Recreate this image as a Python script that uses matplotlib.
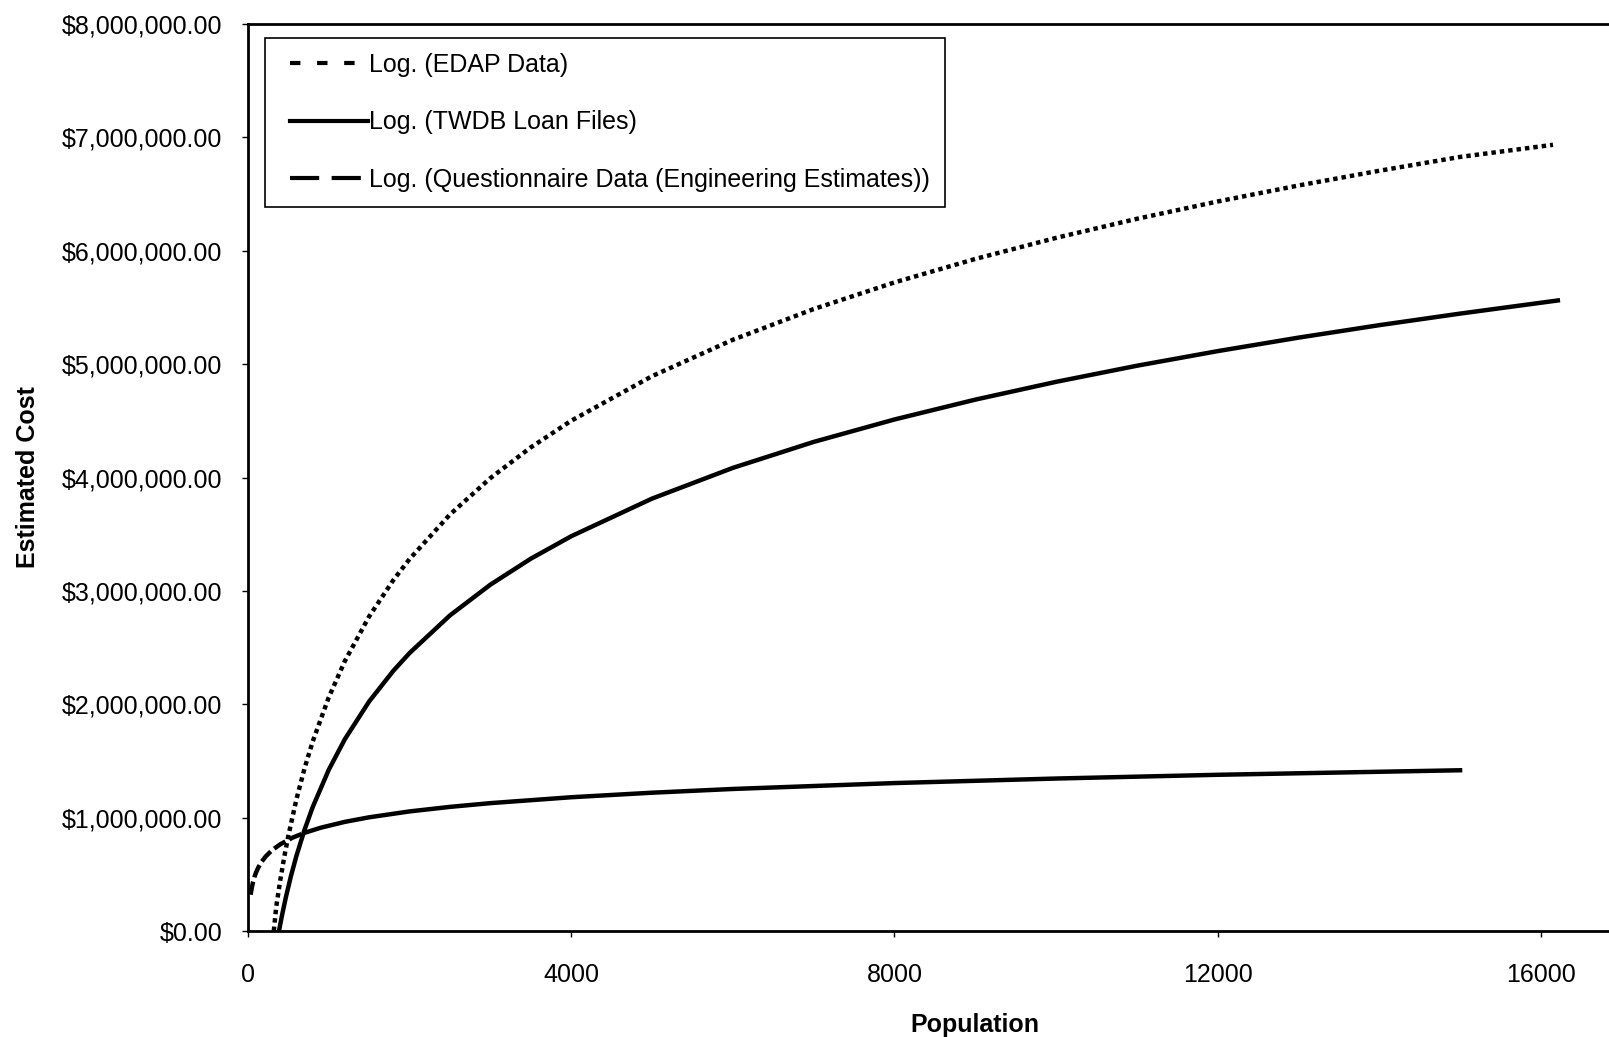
import numpy as np
import matplotlib
matplotlib.use("Agg")
from matplotlib import pyplot as plt
from matplotlib.lines import Line2D
from matplotlib.legend_handler import HandlerLine2D
from matplotlib.ticker import FuncFormatter

plt.rcParams['font.family'] = ['Liberation Sans', 'DejaVu Sans']

# values (population, estimated cost in $ millions)
edap_pop = [320, 350, 400, 450, 500, 600, 700, 800, 1000, 1200, 1500, 1800, 2000, 2500, 3000, 3500, 4000,
            5000, 6000, 7000, 8000, 9000, 10000, 11000, 12000, 13000, 14000, 15000, 16150]
edap_cost = [0.0, 0.214, 0.449, 0.656, 0.841, 1.162, 1.434, 1.669, 2.061, 2.382, 2.775, 3.096, 3.281, 3.674,
             3.995, 4.266, 4.501, 4.894, 5.215, 5.486, 5.721, 5.928, 6.114, 6.282, 6.435, 6.576, 6.706,
             6.828, 6.935]

twdb_pop = [384, 420, 470, 530, 600, 700, 800, 1000, 1200, 1500, 1800, 2000, 2500, 3000, 3500, 4000, 5000,
            6000, 7000, 8000, 9000, 10000, 11000, 12000, 13000, 14000, 15000, 16210]
twdb_cost = [0.0, 0.133, 0.300, 0.479, 0.663, 0.892, 1.091, 1.422, 1.693, 2.025, 2.296, 2.452, 2.784, 3.055,
             3.284, 3.482, 3.814, 4.085, 4.314, 4.512, 4.687, 4.844, 4.986, 5.115, 5.234, 5.344, 5.446,
             5.562]

quest_pop = [33, 45, 60, 80, 100, 130, 170, 220, 300, 400, 550, 700, 900, 1200, 1500, 2000, 2500, 3000,
             4000, 5000, 6000, 8000, 10000, 12000, 15000]
quest_cost = [0.32, 0.372, 0.424, 0.476, 0.516, 0.563, 0.612, 0.658, 0.714, 0.765, 0.823, 0.866, 0.911,
              0.963, 1.003, 1.055, 1.095, 1.128, 1.18, 1.22, 1.253, 1.305, 1.345, 1.378, 1.418]

labels = ["Log. (EDAP Data)", "Log. (TWDB Loan Files)",
          "Log. (Questionnaire Data (Engineering Estimates))"]


class PaddedLine(HandlerLine2D):
    # legend line starts a bit in from the frame, like the Excel legend
    def get_xdata(self, legend, xdescent, ydescent, width, height, fontsize):
        xd, xdm = super().get_xdata(legend, xdescent, ydescent, width, height, fontsize)
        xd = np.linspace(-xdescent + 0.4 * fontsize, -xdescent + width, len(xd))
        return xd, xdm


fig = plt.figure(figsize=(16.09, 10.37), dpi=100)
ax = fig.add_axes([0.1541, 0.1022, 0.904, 0.8746])

ax.plot(edap_pop, np.array(edap_cost) * 1e6, color='black', lw=3.2, linestyle=(0, (1, 0.9)))
ax.plot(twdb_pop, np.array(twdb_cost) * 1e6, color='black', lw=3.2)
# dashes only show on the steep start in the reference, the rest reads as solid
split = quest_pop.index(700)
qc = np.array(quest_cost) * 1e6
ax.plot(quest_pop[:split + 1], qc[:split + 1], color='black', lw=3.2, linestyle=(0, (3, 1)))
ax.plot(quest_pop[split:], qc[split:], color='black', lw=3.2)

ax.set_xlim(0, 18000)
ax.set_ylim(0, 8e6)
ax.set_xticks([0, 4000, 8000, 12000, 16000])
ax.set_yticks(np.arange(0, 8.01e6, 1e6))
ax.yaxis.set_major_formatter(FuncFormatter(lambda v, p: f"${v:,.2f}"))
ax.tick_params(labelsize=18, direction='out', length=4, width=1, color='black')
ax.tick_params(axis='y', pad=14.5)
ax.tick_params(axis='x', pad=19)
for s in ax.spines.values():
    s.set_linewidth(2)
    s.set_color('black')

ax.set_xlabel('Population', fontsize=18, fontweight='bold', labelpad=19)
ax.set_ylabel('Estimated Cost', fontsize=18, fontweight='bold', labelpad=16)

handles = [Line2D([], [], color='black', lw=3, linestyle=(0, (2.5, 4))),
           Line2D([], [], color='black', lw=3),
           Line2D([], [], color='black', lw=3, linestyle=(0, (7, 3)))]
leg = ax.legend(handles, labels, loc='upper left', bbox_to_anchor=(265 / 1609, 1 - 38 / 1037),
                bbox_transform=fig.transFigure, fontsize=18, frameon=True, fancybox=False,
                framealpha=1, edgecolor='black', handlelength=3.5, handletextpad=0.05,
                labelspacing=1.33, borderpad=0.6, borderaxespad=0,
                handler_map={Line2D: PaddedLine()})
leg.get_frame().set_linewidth(1.2)

fig.savefig('out.png', dpi=100)
